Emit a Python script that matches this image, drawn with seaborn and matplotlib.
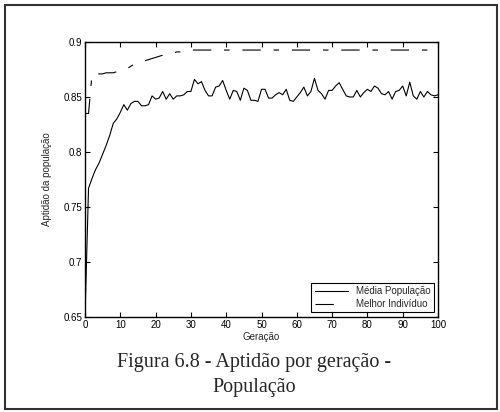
import matplotlib
matplotlib.use("Agg")
import matplotlib.pyplot as plt
import seaborn as sns
import numpy as np
import pandas as pd
from matplotlib.patches import Rectangle

# Fitness per generation
geracao = list(range(0, 101))

media_populacao = [
    0.650, 0.767, 0.776, 0.784, 0.790, 0.798, 0.806, 0.815, 0.826, 0.830,
    0.836, 0.843, 0.838, 0.844, 0.846, 0.846, 0.842, 0.842, 0.843, 0.851,
    0.848, 0.849, 0.855, 0.848, 0.853, 0.848, 0.851, 0.851, 0.852, 0.855,
    0.855, 0.866, 0.862, 0.864, 0.856, 0.851, 0.851, 0.859, 0.860, 0.865,
    0.856, 0.848, 0.856, 0.855, 0.847, 0.858, 0.856, 0.847, 0.847, 0.846,
    0.857, 0.857, 0.849, 0.849, 0.852, 0.854, 0.852, 0.857, 0.847, 0.846,
    0.850, 0.854, 0.859, 0.851, 0.855, 0.867, 0.856, 0.853, 0.848, 0.856,
    0.856, 0.860, 0.863, 0.857, 0.851, 0.850, 0.850, 0.856, 0.850, 0.854,
    0.857, 0.855, 0.860, 0.858, 0.853, 0.852, 0.855, 0.848, 0.855, 0.856,
    0.860, 0.851, 0.8635, 0.851, 0.848, 0.855, 0.850, 0.855, 0.852, 0.851,
    0.852,
]

melhor_individuo = [
    0.835, 0.835, 0.871, 0.871, 0.871, 0.871, 0.872, 0.872, 0.872, 0.873,
    0.874, 0.875, 0.876, 0.878, 0.880, 0.881, 0.882, 0.883, 0.884, 0.885,
    0.886, 0.887, 0.888, 0.889, 0.890, 0.890, 0.891, 0.891, 0.892, 0.892,
] + [0.8927] * 71

x_ticks = list(range(0, 101, 10))
y_ticks = [0.65, 0.70, 0.75, 0.80, 0.85, 0.90]

df = pd.DataFrame({
    "Geração": geracao,
    "Média População": media_populacao,
    "Melhor Indivíduo": melhor_individuo,
})

sns.set_style("ticks")
plt.rcParams["font.family"] = ["Liberation Sans", "DejaVu Sans"]

fig = plt.figure(figsize=(5.0, 4.12), dpi=100)
ax = fig.add_axes([0.17, 0.231, 0.706, 0.667])

sns.lineplot(data=df, x="Geração", y="Média População", ax=ax,
             color="black", linewidth=0.8, label="Média População")
sns.lineplot(data=df, x="Geração", y="Melhor Indivíduo", ax=ax,
             color="black", linewidth=0.8, label="Melhor Indivíduo")
ax.lines[1].set_dashes((16.5, 11.5, 5, 11.5))

ax.set_xlim(0, 100)
ax.set_ylim(0.65, 0.9)
ax.set_xticks(x_ticks)
ax.set_yticks(y_ticks)
ax.set_yticklabels([f"{v:g}" for v in y_ticks])
ax.tick_params(direction="in", top=True, right=True, length=3.5,
               width=0.8, labelsize=7, colors="black", pad=2)
for s in ax.spines.values():
    s.set_visible(True)
    s.set_linewidth(1.0)
    s.set_color("black")

ax.set_xlabel("Geração", fontsize=7, labelpad=2)
ax.set_ylabel("Aptidão da população", fontsize=7, labelpad=8)

leg = ax.legend(loc="lower right", fontsize=7, frameon=True, fancybox=False,
                framealpha=1, edgecolor="black", handlelength=3.4,
                borderaxespad=0.45, borderpad=0.35, labelspacing=0.3,
                handletextpad=0.8)
leg.get_frame().set_linewidth(0.8)
leg.get_lines()[1].set_dashes((16.5, 30))

# Caption below the chart
fig.text(0.508, 0.119, "Figura 6.8 - Aptidão por geração -", ha="center",
         va="center", fontsize=14.5, family=["Liberation Serif", "DejaVu Serif"])
fig.text(0.508, 0.060, "População", ha="center", va="center",
         fontsize=14.5, family=["Liberation Serif", "DejaVu Serif"])

# Outer frame
fig.patches.append(Rectangle((0.009, 0.008), 0.985, 0.98, transform=fig.transFigure,
                             fill=False, edgecolor="#333333", linewidth=1.5))

fig.savefig("out.png", dpi=100)
